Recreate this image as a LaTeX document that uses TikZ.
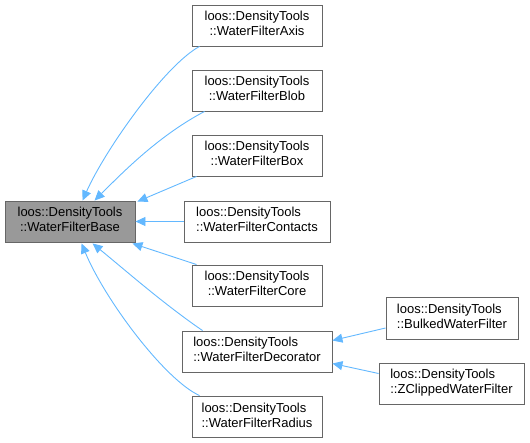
\documentclass[tikz,border=0pt]{standalone}
\usepackage{fontspec}
\setmainfont{Liberation Sans}
\usetikzlibrary{arrows.meta,calc}
\definecolor{edgeblue}{HTML}{63B8FF}
\definecolor{nodeborder}{HTML}{666666}
\definecolor{basefill}{HTML}{999999}
\newcommand{\twolines}[2]{\begin{tabular}{@{}c@{}}\multicolumn{1}{@{}l@{}}{#1}\\#2\end{tabular}}
\begin{document}
\begin{tikzpicture}[x=1pt,y=-1pt,
  cls/.style={draw=nodeborder, fill=white, line width=0.9pt, inner sep=0pt, minimum height=41pt,
    font=\fontsize{13}{15}\selectfont},
  basecls/.style={cls, fill=basefill},
  inh/.style={draw=edgeblue, line width=0.9pt, -{Triangle[length=10pt,width=9pt]}},
  ]
\useasboundingbox (0,0) rectangle (530,443);
\node[basecls, minimum width=130pt] (base) at (70,221.5) {\twolines{loos::DensityTools}{::WaterFilterBase}};
\node[cls, minimum width=130pt] (axis) at (257,25.5) {\twolines{loos::DensityTools}{::WaterFilterAxis}};
\node[cls, minimum width=130pt] (blob) at (257,90.5) {\twolines{loos::DensityTools}{::WaterFilterBlob}};
\node[cls, minimum width=130pt] (box) at (257,155.5) {\twolines{loos::DensityTools}{::WaterFilterBox}};
\node[cls, minimum width=146pt] (contacts) at (257,221.5) {\twolines{loos::DensityTools}{::WaterFilterContacts}};
\node[cls, minimum width=130pt] (core) at (257,285.5) {\twolines{loos::DensityTools}{::WaterFilterCore}};
\node[cls, minimum width=150pt] (decor) at (257,351.5) {\twolines{loos::DensityTools}{::WaterFilterDecorator}};
\node[cls, minimum width=130pt] (radius) at (257,416.5) {\twolines{loos::DensityTools}{::WaterFilterRadius}};
\node[cls, minimum width=132pt, minimum height=42pt] (bulked) at (452,318) {\twolines{loos::DensityTools}{::BulkedWaterFilter}};
\node[cls, minimum width=145pt] (zclip) at (451.5,383.5) {\twolines{loos::DensityTools}{::ZClippedWaterFilter}};

\draw[inh] ($(axis.south west)+(8,0)$) .. controls (165,65) and (105,150) .. ($(base.north west)+(78,0)$);
\draw[inh] ($(blob.south west)+(13,0)$) .. controls (160,135) and (125,170) .. ($(base.north west)+(90,0)$);
\draw[inh] ($(box.south west)+(5,0)$) -- ($(base.north east)+(2,1)$);
\draw[inh] (contacts.west) -- (base.east);
\draw[inh] ($(core.north west)+(5,0)$) -- ($(base.south east)+(-3,1)$);
\draw[inh] ($(decor.north west)+(21,0)$) .. controls (165,305) and (125,270) .. ($(base.south west)+(88,1)$);
\draw[inh] ($(radius.north west)+(8,0)$) .. controls (165,380) and (105,300) .. ($(base.south west)+(77,1)$);
\draw[inh] ($(bulked.west)+(0,10)$) -- ($(decor.east)+(0,-11)$);
\draw[inh] ($(zclip.west)+(0,-10)$) -- ($(decor.east)+(0,12)$);
\end{tikzpicture}
\end{document}
